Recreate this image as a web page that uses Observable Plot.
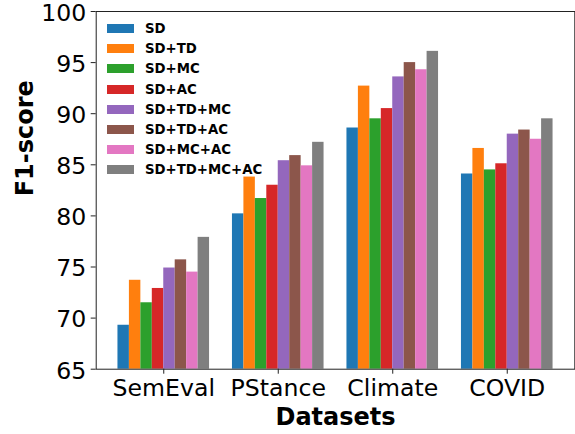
<!DOCTYPE html>
<html>
<head>
<meta charset="utf-8">
<script src="https://cdn.jsdelivr.net/npm/d3@7"></script>
<script src="https://cdn.jsdelivr.net/npm/@observablehq/plot@0.6"></script>
<style>
  html, body { margin: 0; padding: 0; background: #fff; }
  #wrap { position: relative; width: 575px; height: 434px; }
  .lg-swatch { height: 20.14px; padding-bottom: 0 !important; margin: 0 !important; }
  .lg-swatch > svg { margin-right: 11px !important; }
</style>
</head>
<body>
<div id="wrap"></div>
<script>
const datasets = ["SemEval", "PStance", "Climate", "COVID"];
const methods = ["SD", "SD+TD", "SD+MC", "SD+AC", "SD+TD+MC", "SD+TD+AC", "SD+MC+AC", "SD+TD+MC+AC"];
const colors = ["#1f77b4", "#ff7f0e", "#2ca02c", "#d62728", "#9467bd", "#8c564b", "#e377c2", "#7f7f7f"];
const SD        = [69.3, 80.2, 88.6, 84.1];
const SD_TD     = [73.7, 83.8, 92.7, 86.6];
const SD_MC     = [71.5, 81.7, 89.5, 84.5];
const SD_AC     = [72.9, 83.0, 90.5, 85.1];
const SD_TD_MC  = [74.9, 85.4, 93.6, 88.0];
const SD_TD_AC  = [75.7, 85.9, 95.0, 88.4];
const SD_MC_AC  = [74.5, 84.9, 94.3, 87.5];
const SD_ALL    = [77.9, 87.2, 96.1, 89.5];
const series = [SD, SD_TD, SD_MC, SD_AC, SD_TD_MC, SD_TD_AC, SD_MC_AC, SD_ALL];
const yTicks = [65, 70, 75, 80, 85, 90, 95, 100];

const barWidth = 0.1;
const rows = [];
series.forEach((vals, m) => {
  vals.forEach((v, g) => {
    const x1 = g - (methods.length * barWidth) / 2 + m * barWidth;
    rows.push({dataset: datasets[g], method: methods[m], g, m, x1, x2: x1 + barWidth, value: v});
  });
});

const font = "DejaVu Sans";
const chart = Plot.plot({
  width: 575,
  height: 434,
  marginLeft: 95.7,
  marginRight: 0.7,
  marginTop: 11,
  marginBottom: 65.3,
  style: {fontFamily: font, background: "#fff", overflow: "visible"},
  x: {domain: [-0.59, 3.59], axis: null},
  y: {domain: [65, 100], axis: null},
  color: {domain: methods, range: colors},
  marks: [
    Plot.rect(rows, {x1: "x1", x2: "x2", y1: () => yTicks[0], y2: "value", fill: "method"}),
    Plot.frame({stroke: "#222", strokeWidth: 1}),
    Plot.axisY(yTicks, {anchor: "left", tickSize: 5, stroke: "#222", label: null, tickFormat: () => ""}),
    Plot.axisY(yTicks, {anchor: "left", tickSize: 0, tickPadding: 10, fontSize: 23.6, fill: "#000", label: null, dy: 1.8, tickFormat: d => String(d)}),
    Plot.axisX(datasets.map((d, i) => i), {anchor: "bottom", tickSize: 5, tickPadding: 5.5, fontSize: 23.6, fill: "#000", stroke: "#222", label: null, tickFormat: i => datasets[i]}),
    Plot.text(["Datasets"], {frameAnchor: "bottom", dy: 48.6, fontSize: 24, fontWeight: "bold", fill: "#000", lineAnchor: "middle"}),
    Plot.text(["F1-score"], {frameAnchor: "left", dx: -70.4, dy: 6, rotate: -90, fontSize: 24, fontWeight: "bold", fill: "#000", lineAnchor: "middle"})
  ]
});

const legend = Plot.legend({
  color: {domain: methods, range: colors},
  legend: "swatches",
  columns: 1,
  swatchWidth: 27,
  swatchHeight: 9,
  className: "lg",
  style: {position: "absolute", left: "107px", top: "18.6px", margin: "0", fontFamily: font, fontSize: "13.3px", fontWeight: "bold", color: "#000", width: "200px"}
});

const wrap = document.getElementById("wrap");
wrap.appendChild(chart);
wrap.appendChild(legend);
</script>
</body>
</html>
